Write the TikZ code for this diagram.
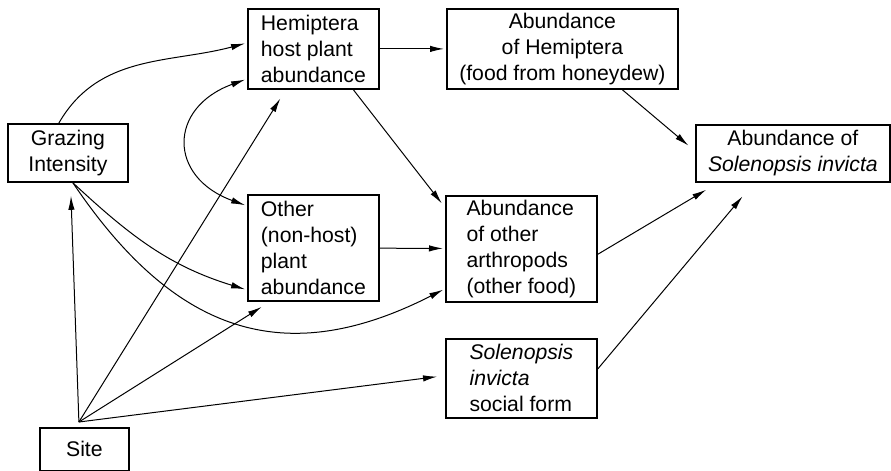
\documentclass[tikz,border=0pt]{standalone}
\usepackage{fontspec}
\setmainfont{Liberation Sans}
\usetikzlibrary{arrows.meta}

\begin{document}
\begin{tikzpicture}[x=0.5pt,y=-0.5pt,
  >={Latex[length=7pt,width=3.2pt]},
  box/.style={draw,line width=0.9pt,inner sep=2pt,anchor=north west},
  arr/.style={->,line width=0.5pt,shorten >=1pt}]
\fontsize{10.6}{13}\selectfont
\useasboundingbox (0,0) rectangle (891,471);

\node[box,align=left,minimum width=65.5pt,minimum height=40pt] (hpa) at (247,8) {Hemiptera\\host plant\\abundance};
\node[box,align=center,minimum width=115.5pt,minimum height=40pt] (ahe) at (446,8) {Abundance\\of Hemiptera\\(food from honeydew)};
\node[box,align=center,minimum width=97pt,minimum height=28.5pt] (asi) at (695,124) {Abundance of\\\textit{Solenopsis invicta}};
\node[box,align=center,minimum width=60pt,minimum height=29pt] (gi) at (7,123) {Grazing\\Intensity};
\node[box,align=left,minimum width=65.5pt,minimum height=53pt] (onp) at (247,194) {Other\\(non-host)\\plant\\abundance};
\node[box,align=left,minimum width=75.5pt,minimum height=52.5pt] (aoa) at (445,195) {Abundance\\of other\\arthropods\\(other food)};
\node[box,align=left,minimum width=75.5pt,minimum height=39.5pt] (sfm) at (445,338) {\textit{Solenopsis}\\\textit{invicta}\\social form};
\node[box,align=center,minimum width=44.5pt,minimum height=21.5pt] (site) at (39,427) {Site};

\coordinate (hub) at ([xshift=-2.75pt,yshift=2.5pt]site.north);

% grazing
\draw[arr] ([xshift=-4.5pt]gi.north) to[out=60,in=195] ([yshift=3pt]hpa.west);
\draw[arr] ([xshift=2.5pt]gi.south) to[out=-43,in=163] ([yshift=-21pt]onp.west);
\draw[arr] ([xshift=2.5pt]gi.south) to[out=-56,in=207,looseness=1.2] ([yshift=-20pt]aoa.west);
\draw[arr,<->,shorten <=1pt] ([yshift=-15pt]hpa.west) to[out=200,in=160,looseness=1.7] ([yshift=21pt]onp.west);

% site
\draw[arr] (hub) -- ([xshift=1.5pt,yshift=-5.5pt]gi.south);
\draw[arr] (hub) -- ([xshift=-16pt,yshift=-3.5pt]hpa.south);
\draw[arr] (hub) -- ([xshift=-25pt,yshift=-2pt]onp.south);
\draw[arr] (hub) -- ([xshift=-3pt,yshift=1pt]sfm.west);

% food
\draw[arr] (hpa) -- (ahe);
\draw[arr] ([xshift=20pt]hpa.south) -- ([xshift=-1pt,yshift=-5pt]aoa.north west);
\draw[arr] (onp) -- (aoa);
\draw[arr] ([xshift=30pt]ahe.south) -- ([xshift=-2.5pt,yshift=3.25pt]asi.west);
\draw[arr] ([yshift=-2.75pt]aoa.east) -- ([xshift=-42.5pt,yshift=-3pt]asi.south);
\draw[arr] ([yshift=4.75pt]sfm.east) -- ([xshift=-24.5pt,yshift=-6pt]asi.south);
\end{tikzpicture}
\end{document}
